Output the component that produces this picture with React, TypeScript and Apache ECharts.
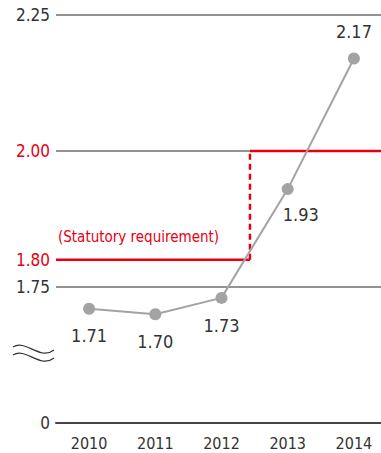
import React, { useEffect, useRef } from "react";
import * as echarts from "echarts";

const years = ["2010", "2011", "2012", "2013", "2014"];
const ratios = [1.71, 1.7, 1.73, 1.93, 2.17];
const yTickValues = [1.5, 1.75, 1.8, 2.0, 2.25];
const redTicks = [1.8, 2.0];
const gridValues = [2.25, 2.0, 1.75];
const requirementBefore = 1.8;
const requirementAfter = 2.0;
const requirementChangeX = 2.93; // position on a 0..5 scale spanning the category band
const statutoryLabel = "(Statutory requirement)";

const FONT = "'Liberation Sans Narrow', 'DejaVu Sans Condensed', 'Roboto', sans-serif";
const RED = "#e60012";
const GRAY_LINE = "#a3a3a3";
const TEXT = "#333333";

export default function App() {
  const ref = useRef<HTMLDivElement>(null);
  useEffect(() => {
    if (!ref.current) return;
    const chart = echarts.init(ref.current, undefined, { renderer: "svg" });
    const labelOffsets = [[0, 27], [0, 27], [0, 28], [13, 25], [0, -27]];
    const option: any = {
      animation: false,
      grid: { left: 56, top: 15, width: 331, height: 408 },
      textStyle: { fontFamily: FONT },
      xAxis: [
        {
          type: "category",
          data: years,
          boundaryGap: true,
          axisLine: { show: true, lineStyle: { color: "#444", width: 2 } },
          axisTick: { show: false },
          splitLine: { show: false },
          axisLabel: { color: TEXT, fontSize: 16, fontFamily: FONT, margin: 12 },
        },
        { type: "value", min: 0, max: 5, show: false },
      ],
      yAxis: {
        type: "value",
        min: 1.5,
        max: 2.25,
        axisLine: { show: false },
        axisTick: { show: false },
        splitLine: { show: false },
        axisLabel: {
          customValues: yTickValues,
          margin: 6,
          fontSize: 17,
          fontFamily: FONT,
          color: (v: any) => (redTicks.some((r) => Math.abs(r - Number(v)) < 1e-6) ? RED : TEXT),
          formatter: (v: number) => (Math.abs(v - 1.5) < 1e-6 ? "0" : v.toFixed(2)),
        },
      },
      series: [
        {
          type: "line",
          xAxisIndex: 1,
          data: [[0, requirementBefore], [requirementChangeX, requirementBefore]],
          symbol: "none",
          lineStyle: { color: RED, width: 2.5 },
          z: 3,
          markLine: {
            silent: true,
            symbol: "none",
            label: { show: false },
            lineStyle: { color: "#6f6f6f", width: 1.5, type: "solid" },
            data: gridValues.map((v) => ({ yAxis: v })),
            z: 1,
          },
        },
        {
          type: "line",
          xAxisIndex: 1,
          data: [[requirementChangeX, requirementBefore], [requirementChangeX, requirementAfter]],
          symbol: "none",
          lineStyle: { color: RED, width: 2.5, type: [6, 4] },
          z: 3,
        },
        {
          type: "line",
          xAxisIndex: 1,
          data: [[requirementChangeX, requirementAfter], [5, requirementAfter]],
          symbol: "none",
          lineStyle: { color: RED, width: 2.5 },
          z: 3,
        },
        {
          type: "line",
          data: ratios.map((v, i) => ({
            value: v,
            label: { offset: labelOffsets[i] },
          })),
          symbol: "circle",
          symbolSize: 12,
          itemStyle: { color: GRAY_LINE },
          lineStyle: { color: GRAY_LINE, width: 2 },
          z: 4,
          label: {
            show: true,
            position: "inside",
            color: TEXT,
            fontSize: 18,
            fontFamily: FONT,
            formatter: (p: any) => Number(p.value).toFixed(2),
          },
        },
      ],
      graphic: [
        {
          type: "text",
          left: 58,
          top: 229,
          style: { text: statutoryLabel, fill: RED, font: `15px ${FONT}` },
        },
        {
          type: "bezierCurve",
          shape: { x1: 13, y1: 347, cpx1: 26, cpy1: 339, cpx2: 40, cpy2: 361, x2: 54, y2: 350 },
          style: { stroke: "#333", lineWidth: 1.2, fill: "none" },
        },
        {
          type: "bezierCurve",
          shape: { x1: 13, y1: 355, cpx1: 26, cpy1: 347, cpx2: 40, cpy2: 369, x2: 54, y2: 358 },
          style: { stroke: "#333", lineWidth: 1.2, fill: "none" },
        },
      ],
    };
    chart.setOption(option);
    return () => chart.dispose();
  }, []);
  return (
    <div
      style={{ position: "fixed", left: 0, top: 0, width: 381, height: 453, overflow: "hidden", background: "#fff" }}
    >
      <div ref={ref} style={{ width: 387, height: 453 }} />
    </div>
  );
}
